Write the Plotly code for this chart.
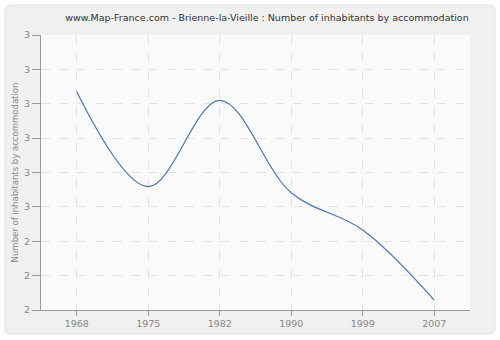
import plotly.graph_objects as go

years = ["1968", "1975", "1982", "1990", "1999", "2007"]
inhabitants_per_accommodation = [2.835, 2.559, 2.810, 2.541, 2.433, 2.229]
y_tick_values = [2.2, 2.3, 2.4, 2.5, 2.6, 2.7, 2.8, 2.9, 3.0]
y_tick_labels = ["2", "2", "2", "3", "3", "3", "3", "3", "3"]

W, H = 500, 340
L, R, T, B = 41, 30, 35, 30
pw, ph = W - L - R, H - T - B


def px_x(p):
    return (p - L) / pw


def px_y(p):
    return (H - B - p) / ph


fig = go.Figure()
fig.add_trace(go.Scatter(
    x=years, y=inhabitants_per_accommodation, mode="lines",
    line=dict(color="#4a78b0", width=1.2, shape="spline", smoothing=1.0),
    hoverinfo="x+y", showlegend=False,
))

# outer rounded frame
x0, x1, y0, y1, r = 5, 495, 5, 334, 6
path = (f"M {px_x(x0 + r)} {px_y(y0)} L {px_x(x1 - r)} {px_y(y0)} "
        f"Q {px_x(x1)} {px_y(y0)} {px_x(x1)} {px_y(y0 + r)} "
        f"L {px_x(x1)} {px_y(y1 - r)} Q {px_x(x1)} {px_y(y1)} {px_x(x1 - r)} {px_y(y1)} "
        f"L {px_x(x0 + r)} {px_y(y1)} Q {px_x(x0)} {px_y(y1)} {px_x(x0)} {px_y(y1 - r)} "
        f"L {px_x(x0)} {px_y(y0 + r)} Q {px_x(x0)} {px_y(y0)} {px_x(x0 + r)} {px_y(y0)} Z")
fig.add_shape(type="path", path=path, xref="paper", yref="paper",
              fillcolor="#f0f0f0", line=dict(color="#e2e2e2", width=1), layer="below")
# plot-area background
fig.add_shape(type="rect", xref="paper", yref="paper", x0=0, x1=1, y0=0, y1=1,
              fillcolor="#fafafa", line=dict(width=0), layer="below")

fig.update_layout(
    width=W, height=H,
    margin=dict(l=L, r=R, t=T, b=B, autoexpand=False),
    paper_bgcolor="white",
    plot_bgcolor="rgba(0,0,0,0)",
    font=dict(family="DejaVu Sans", size=9.5, color="#888888"),
    title=dict(text="www.Map-France.com - Brienne-la-Vieille : Number of inhabitants by accommodation",
               x=px_x(270), xanchor="center", y=1 - 18 / H, yanchor="middle",
               font=dict(family="DejaVu Sans", size=9.5, color="#333333"), automargin=False),
    xaxis=dict(
        type="category", range=[-0.5, 5.5], automargin=False,
        showline=True, linecolor="#999999", linewidth=1,
        ticks="outside", ticklen=5, tickcolor="#999999",
        showgrid=True, gridcolor="#e2e2e2", griddash="dash", gridwidth=1,
        zeroline=False, tickfont=dict(size=9.5, color="#888888"),
    ),
    yaxis=dict(
        range=[2.2, 3.0], tickvals=y_tick_values, ticktext=y_tick_labels, automargin=False,
        showline=True, linecolor="#999999", linewidth=1,
        ticks="outside", ticklen=8, tickcolor="#999999", ticklabelstandoff=0,
        showgrid=True, gridcolor="#e2e2e2", griddash="dash", gridwidth=1,
        zeroline=False, tickfont=dict(size=9.5, color="#888888"),
        title=dict(text="Number of inhabitants by accommodation", standoff=4,
                   font=dict(size=8.5, color="#888888")),
    ),
)

fig.write_html("out.html", config={"displayModeBar": False},
               post_script="document.body.style.margin='0';")
